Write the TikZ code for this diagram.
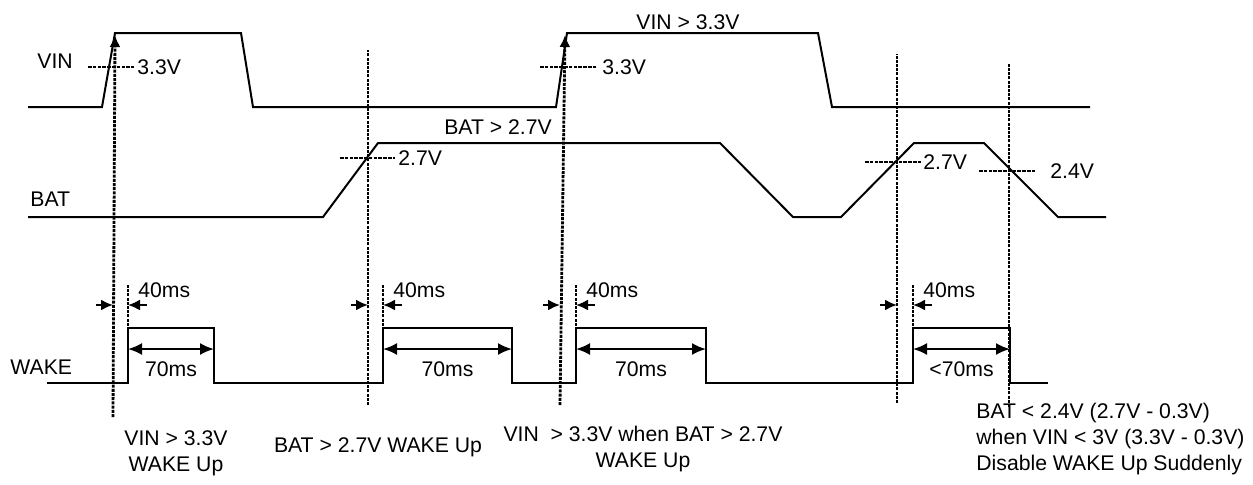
\documentclass[tikz,border=0pt]{standalone}
\usepackage{fontspec}
\setmainfont{Liberation Sans}
\usetikzlibrary{arrows.meta}

\begin{document}
\begin{tikzpicture}[x=0.5pt, y=-0.5pt,
    signal/.style={line width=1pt, line join=miter},
    marker/.style={line width=1.4pt, dash pattern=on 1.5pt off 0.6pt},
    level/.style={line width=1.4pt, dash pattern=on 1.8pt off 0.6pt},
    lbl/.style={font=\fontsize{10.6}{13}\selectfont, inner sep=0pt, align=center},
    dimline/.style={line width=1pt, {Latex[length=7pt,width=6pt]}-{Latex[length=7pt,width=6pt]}},
    gaparrow/.style={line width=1pt, -{Latex[length=6pt,width=5.5pt]}},
    uparrow/.style={-{Latex[length=6pt,width=5.5pt]}}
]
    \useasboundingbox (0,0) rectangle (1253,484);

    % signals
    \draw[signal] (28,107) -- (102,107) -- (115,33) -- (241,33) -- (253,107) -- (556,107)
        -- (567,33) -- (818,33) -- (832,107) -- (1090,107);
    \draw[signal] (28,217) -- (323,217) -- (378,143) -- (720,143) -- (793,217) -- (841,217)
        -- (914,143) -- (984,143) -- (1058,217) -- (1106,217);
    \draw[signal] (47,383) -- (128,383) -- (128,328) -- (214,328) -- (214,383) -- (383,383)
        -- (383,328) -- (512,328) -- (512,383) -- (576,383) -- (576,328) -- (706,328)
        -- (706,383) -- (913,383) -- (913,328) -- (1010,328) -- (1010,383) -- (1048,383);

    \node[lbl, anchor=west] (vin) at (37,61) {VIN};
    \node[lbl, anchor=west] (bat) at (30,199) {BAT};
    \node[lbl, anchor=west] (wake) at (10,367) {WAKE};
    \node[lbl] (vinhigh) at (688,22) {VIN > 3.3V};
    \node[lbl] (bathigh) at (498,127) {BAT > 2.7V};

    % threshold levels
    \draw[level] (88,67) -- (134,67) node[lbl, anchor=west, xshift=1pt] (thvina) {3.3V};
    \draw[level] (540,67) -- (597,67) node[lbl, anchor=west, xshift=2pt] (thvinb) {3.3V};
    \draw[level] (340,158) -- (395,158) node[lbl, anchor=west, xshift=1pt] (thbata) {2.7V};
    \draw[level] (865,162) -- (922,162) node[lbl, anchor=west, xshift=0pt] (thbatb) {2.7V};
    \draw[level] (979,171) -- (1035,171);
    \node[lbl, anchor=west] (thbatc) at (1050,171) {2.4V};

    % event lines
    \draw[marker, uparrow] (113,417) -- (115,35);
    \draw[marker] (368,405) -- (368,50);
    \draw[marker, uparrow] (560,405) -- (565,35);
    \draw[marker] (897,403) -- (897,54);
    \draw[marker] (1009,407) -- (1009,64);

    % 40ms / 70ms
    \foreach \ev/\rs/\fl/\tx in {113/128/214/70ms, 368/383/512/70ms, 560/576/706/70ms, 897/913/1010/{<70ms}} {
        \draw[marker] (\rs,285) -- (\rs,355);
        \draw[gaparrow] (\ev-17,305) -- (\ev,305);
        \draw[gaparrow] (\rs+19,305) -- (\rs,305);
        \node[lbl, anchor=west] at (\rs+10,290) {40ms};
        \draw[dimline] (\rs,349) -- (\fl,349);
        \node[lbl] at ({(\rs+\fl)/2},369) {\tx};
    }

    % notes
    \node[lbl] (notea) at (176,453) {VIN > 3.3V\\WAKE Up};
    \node[lbl] (noteb) at (378,447) {BAT > 2.7V WAKE Up};
    \node[lbl] (notec) at (643,449) {VIN\ \ > 3.3V when BAT > 2.7V\\WAKE Up};
    \node[lbl, anchor=west, align=left] (noted) at (976,439) {BAT < 2.4V (2.7V - 0.3V)\\when VIN < 3V (3.3V - 0.3V)\\Disable WAKE Up Suddenly};
\end{tikzpicture}
\end{document}
